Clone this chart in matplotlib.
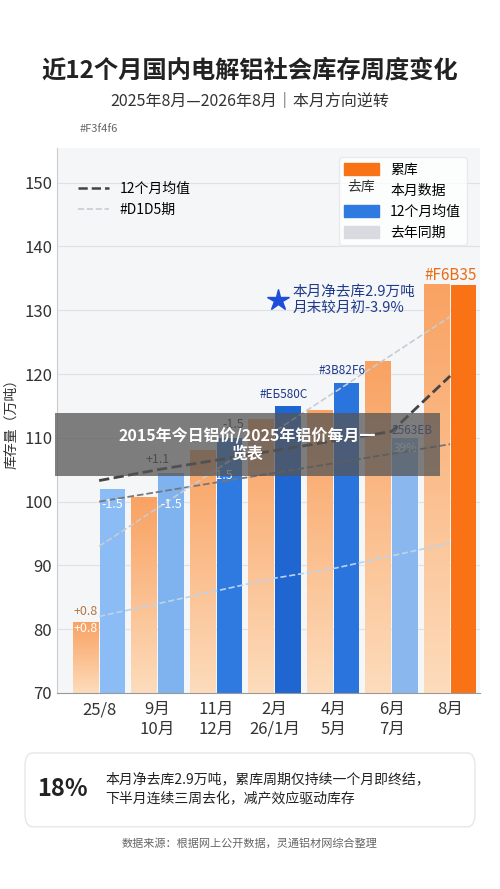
import matplotlib
matplotlib.use("Agg")
import matplotlib.pyplot as plt
import numpy as np
from matplotlib.patches import FancyBboxPatch, Rectangle
from matplotlib.lines import Line2D
from matplotlib.patches import Patch
from matplotlib.colors import LinearSegmentedColormap

plt.rcParams['font.family'] = ['Noto Sans CJK SC', 'DejaVu Sans']

top_labels = ["25/8", "9月", "11月", "2月", "4月", "6月", "8月"]
bottom_labels = ["", "10月", "12月", "26/1月", "5月", "7月", ""]
orange_vals = [81.0, 100.7, 108.0, 112.8, 114.3, 122.0, 134.0]
blue_vals = [102.0, 104.5, 110.0, 115.0, 118.6, 110.0, 134.0]
blue_colors = ["#8bbcf5", "#7fb3f0", "#2f7ae0", "#1f66d1", "#2a74dd", "#8ab7ee", "#F97316"]
avg_dark = [103.3, 105.0, 106.5, 108.0, 109.5, 111.0, 119.7]
avg_mid = [100.0, 101.5, 103.0, 104.5, 106.0, 107.5, 109.0]
light_up = [93.0, 99.0, 105.0, 111.0, 117.0, 123.0, 129.0]
light_low = [82.0, 84.0, 86.0, 88.0, 89.5, 91.5, 93.5]

fig = plt.figure(figsize=(5, 8.89), dpi=100)
fig.patch.set_facecolor("#ffffff")
ax = fig.add_axes([0.114, 0.2205, 0.846, 0.6135])
ax.set_facecolor("#f5f6f8")
x = np.arange(len(top_labels))
w = 0.44
grad = np.linspace(0, 1, 256).reshape(-1, 1)
cmap = LinearSegmentedColormap.from_list("o", ["#fddcbc", "#f9a262"])
for i, v in enumerate(orange_vals):
    ax.imshow(grad, extent=[x[i]-0.23-w/2, x[i]-0.23+w/2, 70, v], origin="lower",
              cmap=cmap, aspect="auto", zorder=2)
for i, v in enumerate(blue_vals):
    ax.bar(x[i]+0.23, v-70, bottom=70, width=w, color=blue_colors[i], zorder=2)
ax.set_xlim(-0.72, 6.51)
ax.set_ylim(70, 155.5)
ax.set_yticks(range(70, 151, 10))
ax.set_xticks(x)
ax.set_xticklabels([f"{a}\n{b}" for a, b in zip(top_labels, bottom_labels)], fontsize=12, color="#333")
ax.tick_params(axis="y", labelsize=12, colors="#333", length=0)
ax.tick_params(axis="x", length=0, pad=6)
ax.grid(axis="y", color="#dfe1e5", lw=0.8, zorder=0)
for s in ["top", "right"]:
    ax.spines[s].set_visible(False)
ax.spines["left"].set_color("#cccccc")
ax.spines["bottom"].set_color("#999999")
ax.set_ylabel("库存量（万吨）", fontsize=10, color="#333")

ax.plot(x, avg_dark, ls="--", color="#444", lw=2, zorder=4)
ax.plot(x, avg_mid, ls="--", color="#777", lw=1.3, zorder=4)
ax.plot(x, light_up, ls="--", color="#c8ccd2", lw=1.2, zorder=4)
ax.plot(x, light_low, ls="--", color="#bcd3ee", lw=1.2, zorder=4)

ax.text(x[0]-0.23, 82.2, "+0.8", ha="center", fontsize=9, color="#b07848", zorder=5)
ax.text(x[0]-0.23, 79.5, "+0.8", ha="center", fontsize=9, color="white", zorder=5)
ax.text(x[0]+0.23, 99.0, "-1.5", ha="center", fontsize=9, color="white", zorder=5)
ax.text(x[1]+0.23, 99.0, "-1.5", ha="center", fontsize=9, color="white", zorder=5)
ax.text(x[1], 106.0, "+1.1", ha="center", fontsize=9, color="#333", zorder=5)
ax.text(x[2]+0.1, 103.6, "-1.5", ha="center", fontsize=9, color="white", zorder=5)
ax.text(x[2]+0.3, 111.5, "-1.5", ha="center", fontsize=9, color="#333", zorder=5)
ax.text(x[3]+0.15, 116.3, "#EБ580C", ha="center", fontsize=8.5, color="#1e3a8a", zorder=5)
ax.text(x[4]+0.15, 120.0, "#3B82F6", ha="center", fontsize=8.5, color="#1e3a8a", zorder=5)
ax.text(x[5]+0.35, 110.6, "2563EB", ha="center", fontsize=8.5, color="#1e3a8a", zorder=5)
ax.text(x[5]+0.23, 107.8, "39%", ha="center", fontsize=8.5, color="white", zorder=5)
ax.text(x[6], 134.8, "#F6B35", ha="center", fontsize=11, color="#ea6c15", zorder=5)
ax.plot([3.05], [131.6], marker="*", ms=16, color="#1d4ed8", zorder=6)
ax.text(3.3, 131.6, "本月净去库2.9万吨\n月末较月初-3.9%", ha="left", va="center",
        fontsize=10.5, color="#1e3a8a", linespacing=1.2, zorder=6)

h1 = [Line2D([], [], ls="--", color="#444", lw=1.8), Line2D([], [], ls="--", color="#c8ccd2", lw=1.2)]
leg1 = ax.legend(h1, ["12个月均值", "#D1D5期"], loc="upper left", bbox_to_anchor=(0.02, 0.96),
                 frameon=False, fontsize=10, handlelength=2.2)
ax.add_artist(leg1)
h2 = [Patch(color="#F97316"), Patch(color="none"), Patch(color="#2f7ae0"), Patch(color="#d7dbe0")]
leg2 = ax.legend(h2, ["累库", "本月数据", "12个月均值", "去年同期"], loc="upper right",
                 bbox_to_anchor=(0.985, 0.995), frameon=True, fontsize=10, handlelength=2.5,
                 handleheight=1.0, facecolor="white", edgecolor="#e5e7eb")
ax.text(0.685, 0.928, "去库", transform=ax.transAxes, fontsize=10, color="#333", va="center", zorder=7)

fig.text(0.16, 0.852, "#F3f4f6", fontsize=8, color="#666")
fig.text(0.5, 0.913, "近12个月国内电解铝社会库存周度变化", ha="center", fontsize=17.5, weight="bold", color="#222")
fig.text(0.5, 0.882, "2025年8月—2026年8月｜本月方向逆转", ha="center", fontsize=11.5, color="#333")

fig.patches.append(Rectangle((0.11, 0.465), 0.77, 0.07, transform=fig.transFigure,
                             facecolor="#555555", alpha=0.75, zorder=10))
fig.text(0.495, 0.5, "2015年今日铝价/2025年铝价每月一\n览表", ha="center", va="center",
         fontsize=11.5, weight="bold", color="white", zorder=11, linespacing=1.2)

fig.patches.append(FancyBboxPatch((0.05, 0.07), 0.9, 0.083, transform=fig.transFigure,
                                  boxstyle="round,pad=0,rounding_size=0.015",
                                  facecolor="white", edgecolor="#e5e7eb", zorder=1))
fig.text(0.075, 0.112, "18%", fontsize=17, weight="bold", color="#222", va="center")
fig.text(0.21, 0.112, "本月净去库2.9万吨，累库周期仅持续一个月即终结，\n下半月连续三周去化，减产效应驱动库存",
         fontsize=10, color="#222", va="center", linespacing=1.5)
fig.text(0.5, 0.047, "数据来源：根据网上公开数据，灵通铝材网综合整理", ha="center", fontsize=8, color="#666")

fig.savefig("out.png", dpi=100)
